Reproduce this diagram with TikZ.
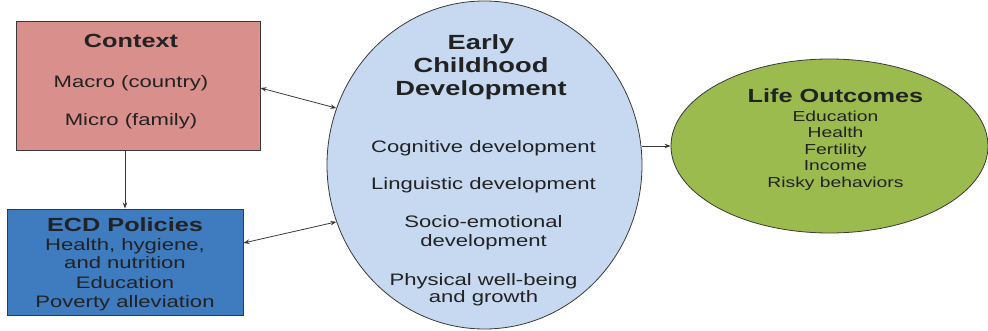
\documentclass[tikz,border=0pt]{standalone}
\usepackage{fontspec}
\setmainfont{Liberation Sans}[FakeStretch=1.33]
\usetikzlibrary{shapes.geometric,arrows.meta}

\definecolor{ctxfill}{HTML}{D98F8B}
\definecolor{polfill}{HTML}{3F7BBF}
\definecolor{ecdfill}{HTML}{C6D9F0}
\definecolor{lifefill}{HTML}{9BBB4E}
\definecolor{ink}{HTML}{222222}
\definecolor{edge}{HTML}{3A3A3A}

\tikzset{
  panel/.style={draw=edge, line width=0.9pt, inner sep=0pt},
  oval/.style={ellipse, draw=edge, line width=0.8pt, inner sep=0pt},
  txt/.style={anchor=base, inner sep=0pt, text=ink},
  head/.style={txt, font=\fontsize{19}{22}\selectfont\bfseries},
  body/.style={txt, font=\fontsize{16.6}{19}\selectfont},
  small/.style={txt, font=\fontsize{14.5}{16.5}\selectfont},
  link/.style={draw=edge, line width=0.8pt, >={Stealth[length=6pt,width=4.5pt]}},
}

\begin{document}
\begin{tikzpicture}[x=1pt,y=-1pt]
\useasboundingbox (0,0) rectangle (988,331);

% shapes
\node[panel, fill=ctxfill, minimum width=244pt, minimum height=129pt] (ctx) at (138,85.5) {};
\node[panel, fill=polfill, minimum width=236pt, minimum height=106pt] (pol) at (125,262) {};
\node[oval, fill=ecdfill, minimum width=315pt, minimum height=328pt] (ecd) at (484.5,165) {};
\node[oval, fill=lifefill, minimum width=317pt, minimum height=174pt] (life) at (829.5,146) {};

% context box text
\node[head] (ctxT) at (131,48) {Context};
\node[body] (ctxA) at (131,88) {Macro (country)};
\node[body] (ctxB) at (131,126) {Micro (family)};

% policies box text
\node[head] (polT) at (125,232) {ECD Policies};
\node[body] (polA) at (125,251) {Health, hygiene,};
\node[body] (polB) at (125,269) {and nutrition};
\node[body] (polC) at (125,288) {Education};
\node[body] (polD) at (125,307) {Poverty alleviation};

% early childhood development text
\node[head, font=\fontsize{20.5}{24}\selectfont\bfseries] (ecdT1) at (481,50) {Early};
\node[head, font=\fontsize{20.5}{24}\selectfont\bfseries] (ecdT2) at (481,73) {Childhood};
\node[head, font=\fontsize{20.5}{24}\selectfont\bfseries] (ecdT3) at (481,96) {Development};
\node[body] (ecdA) at (483.5,153) {Cognitive development};
\node[body] (ecdB) at (483.5,190) {Linguistic development};
\node[body] (ecdC1) at (483.5,228) {Socio-emotional};
\node[body] (ecdC2) at (483.5,247) {development};
\node[body] (ecdD1) at (483.5,285) {Physical well-being};
\node[body] (ecdD2) at (483.5,302) {and growth};

% life outcomes text
\node[head] (lifeT) at (835.5,103) {Life Outcomes};
\node[small] (lifeA) at (835.5,122) {Education};
\node[small] (lifeB) at (835.5,138) {Health};
\node[small] (lifeC) at (835.5,155) {Fertility};
\node[small] (lifeD) at (835.5,171) {Income};
\node[small] (lifeE) at (835.5,188) {Risky behaviors};

% connectors
\draw[link, <->] ([yshift=-2.5pt]ctx.east) -- (ecd.159);
\draw[link, <->] ([yshift=19pt]pol.east) -- (ecd.201);
\draw[link, ->] (pol.north |- ctx.south) -- (pol.north);
\draw[link, ->] (ecd.east |- life.west) -- (life.west);
\end{tikzpicture}
\end{document}
